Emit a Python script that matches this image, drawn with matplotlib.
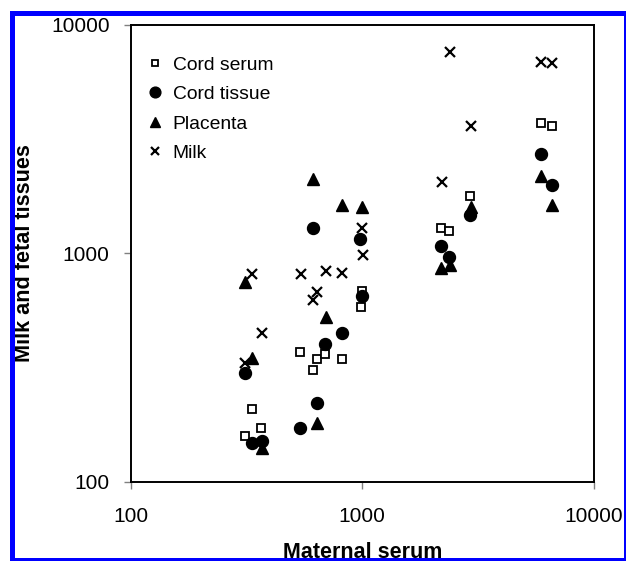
import matplotlib
matplotlib.use("Agg")
import matplotlib.pyplot as plt
from matplotlib.patches import Rectangle

plt.rcParams['font.family'] = ['Liberation Sans', 'DejaVu Sans']

# Data
cord_serum_x = [311, 333, 367, 540, 611, 635, 693, 815, 990, 998, 2188, 2371, 2924, 5902, 6592]
cord_serum_y = [158, 208, 171, 368, 307, 345, 363, 344, 583, 687, 1291, 1256, 1782, 3733, 3597]

cord_tissue_x = [311, 333, 369, 540, 635, 693, 815, 611, 982, 998, 2188, 2371, 2924, 5902, 6592]
cord_tissue_y = [299, 148, 151, 171, 220, 400, 449, 1291, 1155, 653, 1075, 968, 1467, 2710, 1990]

placenta_x = [313, 335, 369, 615, 640, 695, 818, 998, 2196, 2398, 2950, 5902, 6620]
placenta_y = [750, 348, 140, 2110, 180, 528, 1630, 1589, 859, 892, 1589, 2183, 1632]

milk_x = [311, 335, 369, 544, 613, 640, 695, 818, 998, 1010, 2204, 2387, 2950, 5902, 6620]
milk_y = [330, 809, 446, 809, 624, 675, 836, 823, 1288, 980, 2054, 7626, 3597, 6919, 6837]

series_labels = ["Cord serum", "Cord tissue", "Placenta", "Milk"]
x_ticks = [100, 1000, 10000]
y_ticks = [100, 1000, 10000]
x_label = "Maternal serum"
y_label = "Milk and fetal tissues"

W, H = 626, 561
fig = plt.figure(figsize=(W / 100, H / 100), dpi=100)
ax = fig.add_axes([130.5 / W, 1 - 481.6 / H, (594 - 130.5) / W, (481.6 - 25) / H])

ax.plot(cord_serum_x, cord_serum_y, linestyle='none', marker='s', ms=5.2,
        mfc='white', mec='black', mew=1.3, label=series_labels[0])
ax.plot(cord_tissue_x, cord_tissue_y, linestyle='none', marker='o', ms=8.6,
        mfc='black', mec='black', label=series_labels[1])
ax.plot(placenta_x, placenta_y, linestyle='none', marker='^', ms=8,
        mfc='black', mec='black', label=series_labels[2])
ax.plot(milk_x, milk_y, linestyle='none', marker='x', ms=7,
        mec='black', mew=1.6, label=series_labels[3])

ax.set_xscale('log')
ax.set_yscale('log')
ax.set_xlim(100, 10000)
ax.set_ylim(100, 10000)
ax.set_xticks(x_ticks)
ax.set_yticks(y_ticks)
ax.set_xticklabels([str(t) for t in x_ticks])
ax.set_yticklabels([str(t) for t in y_ticks])
ax.minorticks_off()
ax.tick_params(axis='both', direction='out', length=5, width=1, color='#808080',
               labelsize=15, labelcolor='black')
ax.tick_params(axis='x', pad=13)
ax.tick_params(axis='y', pad=10)
for s in ax.spines.values():
    s.set_linewidth(1.4)
    s.set_color('black')

# axis titles placed as in the reference
fig.text(363 / W, 1 - 557.5 / H, x_label, fontsize=15.5, fontweight='bold',
         ha='center', va='baseline')
fig.text(25 / W, 1 - 253 / H, y_label, fontsize=15.6, fontweight='bold',
         ha='center', va='center', rotation=90)

leg = ax.legend(loc='upper left', frameon=False, fontsize=13.9, handlelength=0.6,
                handletextpad=0.62, labelspacing=0.62, borderaxespad=0.0,
                bbox_to_anchor=(0.04, 0.932), markerscale=0.9, borderpad=0.0)

# blue border
fig.patches.append(Rectangle((12 / W, 1 - 560 / H), (625.5 - 12) / W, (560 - 12.5) / H,
                             transform=fig.transFigure, fill=False, edgecolor='#0000ff',
                             linewidth=3.6, zorder=10))

fig.savefig('out.png', dpi=100)
